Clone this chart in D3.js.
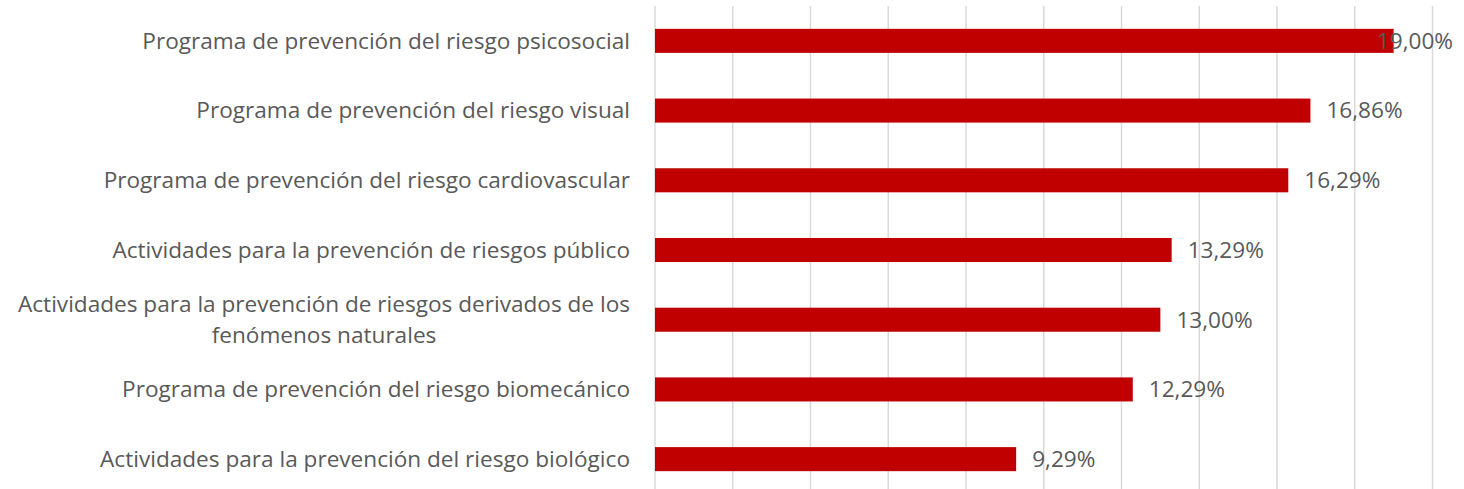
<!DOCTYPE html>
<html>
<head>
<meta charset="utf-8">
<script src="https://cdn.jsdelivr.net/npm/d3@7"></script>
<style>
  html, body { margin: 0; padding: 0; background: #fff; }
  svg { display: block; font-family: "Open Sans", sans-serif; }
</style>
</head>
<body>
<script>
const categories = [
  "Programa de prevención del riesgo psicosocial",
  "Programa de prevención del riesgo visual",
  "Programa de prevención del riesgo cardiovascular",
  "Actividades para la prevención de riesgos público",
  "Actividades para la prevención de riesgos derivados de los fenómenos naturales",
  "Programa de prevención del riesgo biomecánico",
  "Actividades para la prevención del riesgo biológico"
];
const values = [19.0, 16.86, 16.29, 13.29, 13.0, 12.29, 9.29];
const xTicks = [0, 2, 4, 6, 8, 10, 12, 14, 16, 18, 20];

const width = 1464;
const height = 489;
const plotLeft = 655;
const plotRight = 1432.5;
const labelMax = 1453;
const fontSize = "22.6px";

const svg = d3.select("body")
  .append("svg")
  .attr("width", width)
  .attr("height", height);

const x = d3.scaleLinear().domain([0, 20]).range([plotLeft, plotRight]);

const y = d3.scaleBand()
  .domain(categories)
  .range([6, 494])
  .paddingInner(0.655)
  .paddingOuter(0.3275);

// gridlines
svg.append("g")
  .selectAll("line")
  .data(xTicks)
  .join("line")
  .attr("x1", d => x(d))
  .attr("x2", d => x(d))
  .attr("y1", 6)
  .attr("y2", height)
  .attr("stroke", "#d9d9d9")
  .attr("stroke-width", 1.5);

// bars
svg.append("g")
  .selectAll("rect")
  .data(values)
  .join("rect")
  .attr("x", x(0))
  .attr("y", (d, i) => y(categories[i]))
  .attr("width", d => x(d) - x(0))
  .attr("height", y.bandwidth())
  .attr("fill", "#c00000");

// value labels
const fmt = d => d3.format(".2f")(d).replace(".", ",") + "%";
svg.append("g")
  .selectAll("text")
  .data(values)
  .join("text")
  .attr("y", (d, i) => y(categories[i]) + y.bandwidth() / 2)
  .attr("dy", "0.35em")
  .attr("fill", "#595959")
  .style("font-size", fontSize)
  .text(fmt)
  .each(function (d) {
    const w = this.getComputedTextLength();
    let px = x(d) + 16;
    if (px + w > labelMax) px = labelMax - w;
    d3.select(this).attr("x", px);
  });

// category labels, wrapped to fit
const labelRight = 630;
const labelWidth = 625;
const lineHeight = 31;
const catG = svg.append("g");
categories.forEach(c => {
  const t = catG.append("text")
    .attr("fill", "#595959")
    .style("font-size", fontSize);
  const words = c.split(" ");
  const lines = [];
  let line = [];
  const probe = t.append("tspan");
  words.forEach(w => {
    line.push(w);
    probe.text(line.join(" "));
    if (probe.node().getComputedTextLength() > labelWidth && line.length > 1) {
      line.pop();
      lines.push(line.join(" "));
      line = [w];
    }
  });
  lines.push(line.join(" "));
  probe.remove();

  const cy = y(c) + y.bandwidth() / 2;
  const spans = lines.map((l, i) => t.append("tspan")
    .attr("y", cy + (i - (lines.length - 1) / 2) * lineHeight)
    .attr("dy", "0.35em")
    .text(l));
  if (lines.length === 1) {
    spans[0].attr("x", labelRight).attr("text-anchor", "end");
  } else {
    const maxW = d3.max(spans, s => s.node().getComputedTextLength());
    const center = labelRight - maxW / 2;
    spans.forEach(s => s.attr("x", center).attr("text-anchor", "middle"));
  }
});
</script>
</body>
</html>
